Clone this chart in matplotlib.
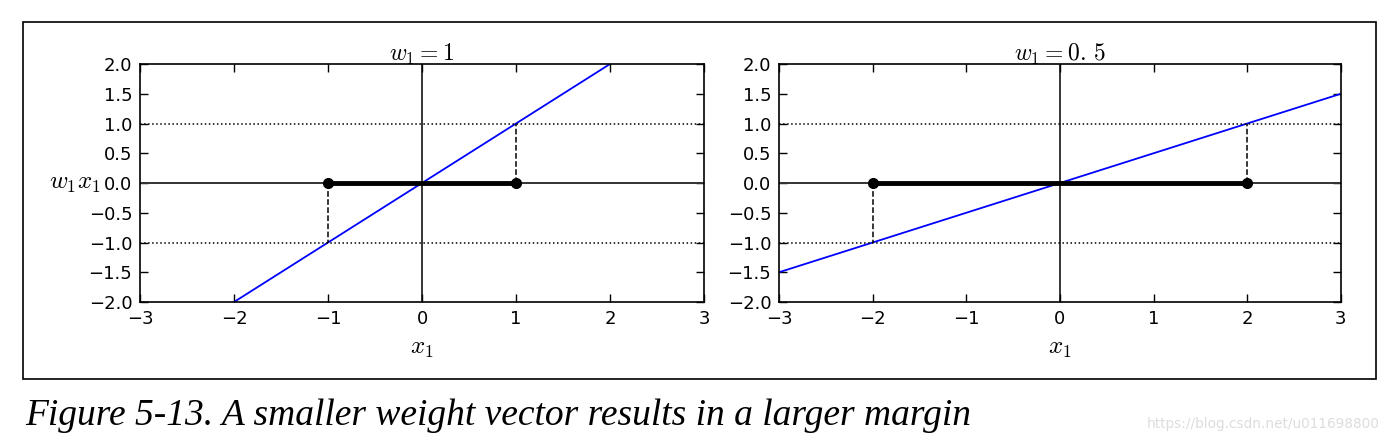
import matplotlib
matplotlib.use("Agg")
import matplotlib.pyplot as plt
from matplotlib.patches import Rectangle

# chart values
weights = [1, 0.5]
titles = [r"$w_1 = 1$", r"$w_1 = 0.\,5$"]
x1_lim = [-3, 3]
y_lim = [-2, 2]
line_x = [-3, 3]
line_y = [[-3, 3], [-1.5, 1.5]]
margin_x = [[-1, 1], [-2, 2]]
x_ticks = [-3, -2, -1, 0, 1, 2, 3]
y_ticks = [-2.0, -1.5, -1.0, -0.5, 0.0, 0.5, 1.0, 1.5, 2.0]
caption = "Figure 5-13. A smaller weight vector results in a larger margin"
watermark = "https://blog.csdn.net/u011698800"

plt.rcParams["mathtext.fontset"] = "cm"
plt.rcParams["font.family"] = "DejaVu Sans"

fig = plt.figure(figsize=(13.9, 4.42), dpi=100)
fig.patch.set_facecolor("white")

boxes = [[0.1007, 0.3167, 0.4058, 0.5385], [0.5604, 0.3167, 0.4043, 0.5385]]

for i, w in enumerate(weights):
    ax = fig.add_axes(boxes[i])
    m = margin_x[i]
    ax.plot(line_x, line_y[i], color="b", lw=1.3)
    ax.plot(x1_lim, [1, 1], "k:", lw=1.1)
    ax.plot(x1_lim, [-1, -1], "k:", lw=1.1)
    ax.axhline(y=0, color="#333333", lw=1.4)
    ax.axvline(x=0, color="k", lw=1.1)
    ax.plot([m[1], m[1]], [0, 1], "k--", lw=1.1)
    ax.plot([m[0], m[0]], [0, -1], "k--", lw=1.1)
    ax.plot(m, [0, 0], "k-o", lw=3.5, ms=7)
    ax.set_xlim(x1_lim)
    ax.set_ylim(y_lim)
    ax.set_xticks(x_ticks)
    ax.set_yticks(y_ticks)
    ax.set_yticklabels(["%.1f" % v if v >= 0 else "\u2212%.1f" % -v for v in y_ticks])
    ax.tick_params(direction="in", top=True, right=True, length=6, width=1,
                   labelsize=13, pad=5.5)
    for s in ax.spines.values():
        s.set_linewidth(1.2)
    ax.set_xlabel(r"$x_1$", fontsize=18, labelpad=6)
    if i == 0:
        ax.set_ylabel(r"$w_1 x_1$", rotation=0, fontsize=18, ha="right")
        ax.yaxis.set_label_coords(-0.069, 0.45)
    ax.set_title(titles[i], fontsize=17, pad=2)

# frame around the figure and caption
fig.patches.append(Rectangle((23 / 1390, 1 - 379 / 442), 1353 / 1390, 357 / 442,
                             transform=fig.transFigure, fill=False,
                             edgecolor="k", lw=1.2))
fig.text(25 / 1390, 1 - 425 / 442, caption, fontsize=27, style="italic",
         family="Liberation Serif", ha="left", va="baseline")
fig.text(1380 / 1390, 1 - 428 / 442, watermark, fontsize=9.8, color="#dddddd",
         ha="right", va="baseline")

plt.savefig("out.png", dpi=100)
